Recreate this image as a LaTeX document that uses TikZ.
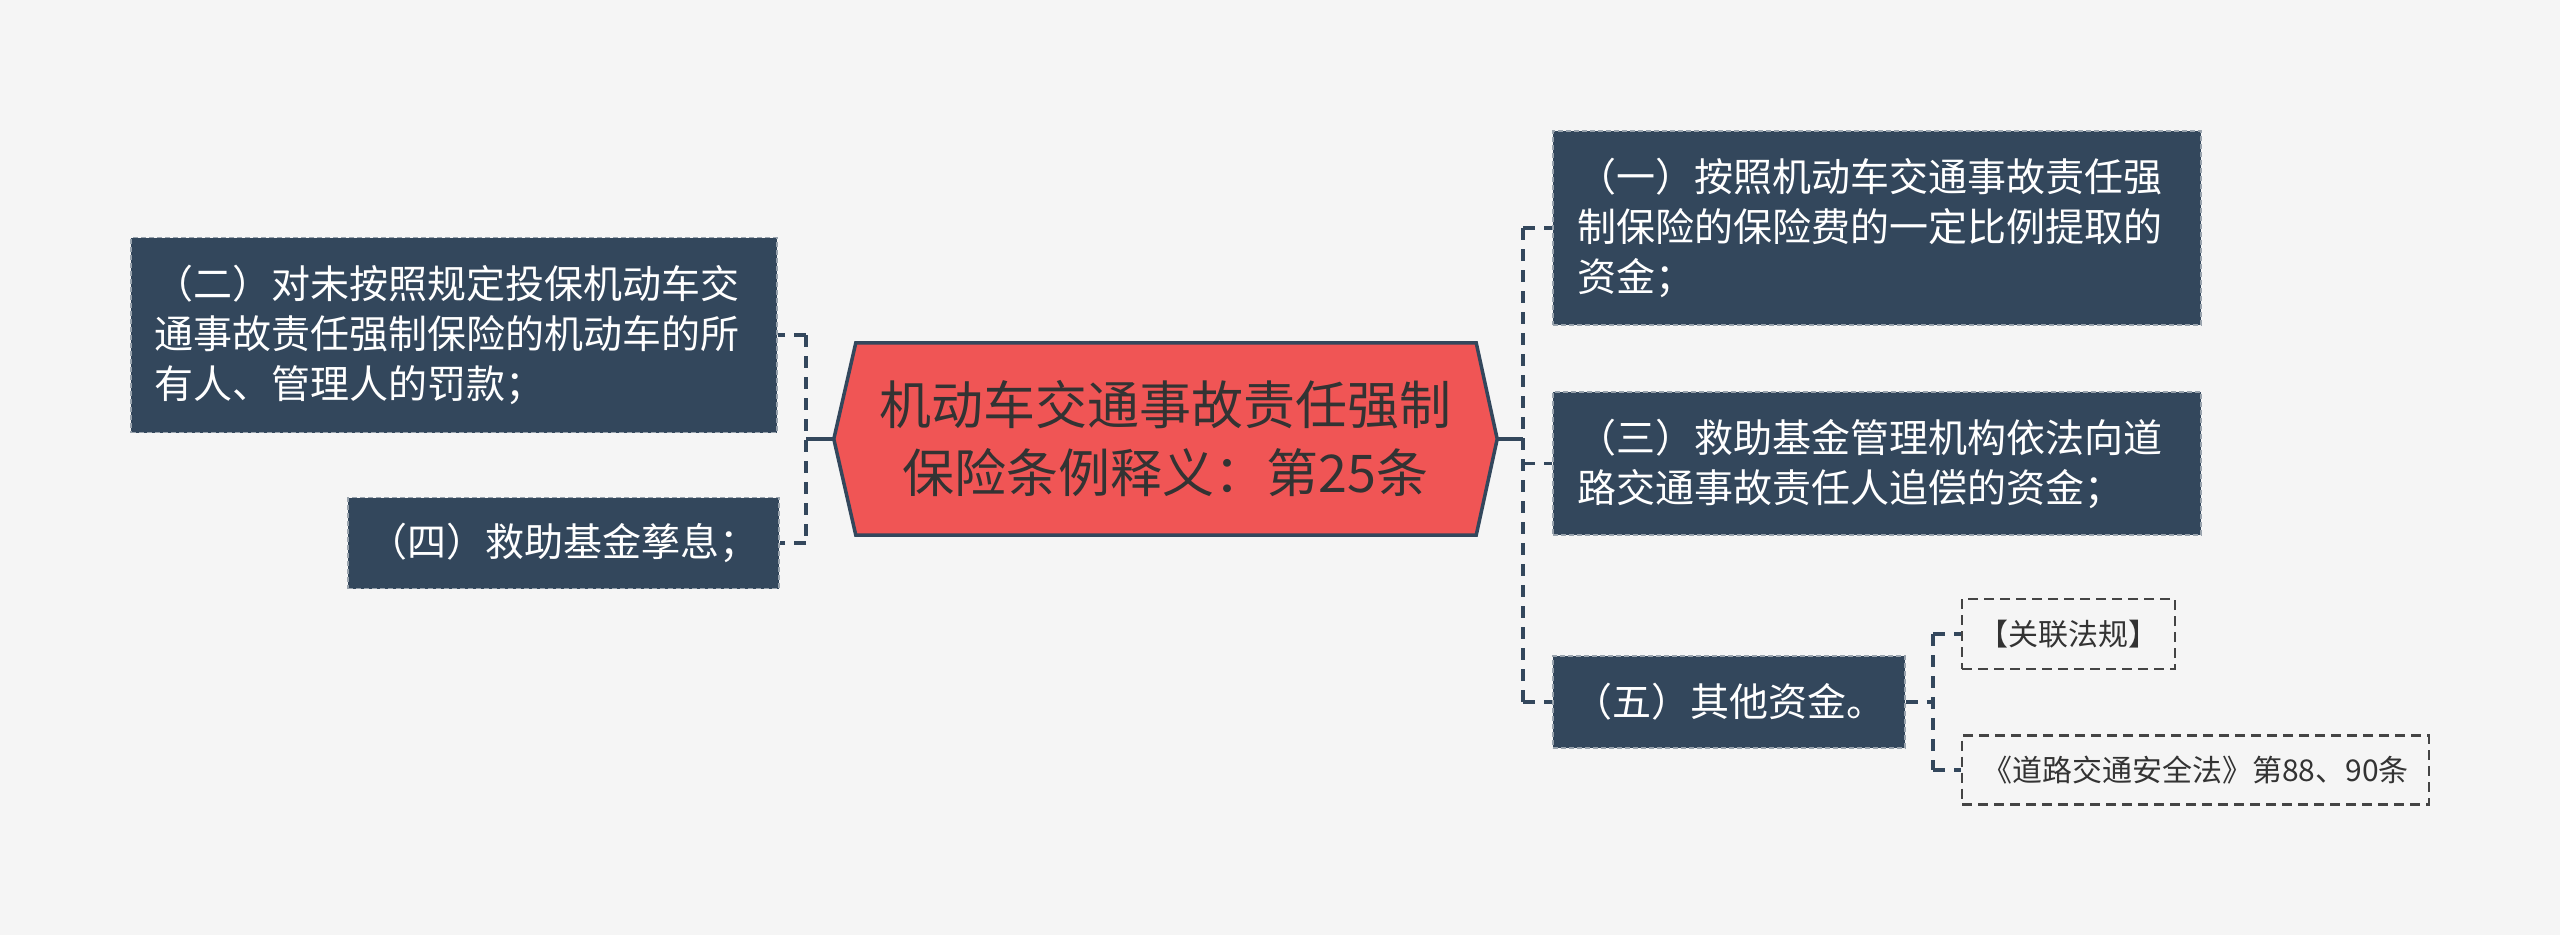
\documentclass[tikz,border=0pt]{standalone}
\usepackage{fontspec}
\setmainfont{Noto Sans CJK SC}
\usetikzlibrary{backgrounds}
\definecolor{bg}{HTML}{F5F5F5}
\definecolor{dark}{HTML}{33475C}
\definecolor{hexred}{HTML}{F05555}
\definecolor{txt}{HTML}{333333}
\definecolor{lite}{HTML}{444444}
\tikzset{
  darkbox/.style={fill=dark, draw=white!50!dark, dash pattern=on 5pt off 3pt, line width=1.5pt,
    text=white, font=\fontsize{39}{50}\selectfont, inner sep=0pt},
  litebox/.style={draw=lite, dash pattern=on 10pt off 6pt, line width=2.5pt,
    text=txt, font=\fontsize{30}{36}\selectfont, inner sep=0pt},
  conn/.style={draw=dark, line width=3.5pt, dash pattern=on 12pt off 9pt},
  stub/.style={draw=dark, line width=3.5pt},
}
\begin{document}
\begin{tikzpicture}[x=1pt,y=1pt]
\useasboundingbox (0,0) rectangle (2560,-935);

% centre
\node[text=txt, font=\fontsize{52}{68}\selectfont, align=center, minimum width=663pt, minimum height=192pt, inner sep=0pt] (c) at (1165.5,-439)
  {机动车交通事故责任强制\\保险条例释义：第25条};
\begin{scope}[on background layer]
\fill[bg] (0,0) rectangle (2560,-935);
\filldraw[fill=hexred, draw=dark, line width=3.5pt, line join=miter]
  (c.west) -- ([xshift=22pt]c.north west) -- ([xshift=-21pt]c.north east) -- (c.east)
  -- ([xshift=-21pt]c.south east) -- ([xshift=22pt]c.south west) -- cycle;
\end{scope}

% right boxes
\node[darkbox, minimum width=648pt, minimum height=194pt, text width=600pt, align=left] (b1) at (1877,-228)
  {（一）按照机动车交通事故责任强\\制保险的保险费的一定比例提取的\\资金；};
\node[darkbox, minimum width=648pt, minimum height=143pt, text width=600pt, align=left] (b3) at (1877,-463.5)
  {（三）救助基金管理机构依法向道\\路交通事故责任人追偿的资金；};
\node[darkbox, minimum width=352pt, minimum height=92pt, align=center] (b5) at (1729,-702)
  {（五）其他资金。};

% left boxes
\node[darkbox, minimum width=646pt, minimum height=195pt, text width=600pt, align=left] (b2) at (454,-335)
  {（二）对未按照规定投保机动车交\\通事故责任强制保险的机动车的所\\有人、管理人的罚款；};
\node[darkbox, minimum width=431pt, minimum height=91pt, align=center] (b4) at (563.5,-543)
  {（四）救助基金孳息；};

% small boxes
\node[litebox, minimum width=213pt, minimum height=70pt] (sa) at (2068.5,-634) {【关联法规】};
\node[litebox, minimum width=467pt, minimum height=69pt] (sb) at (2195.5,-770) {《道路交通安全法》第88、90条};

% junctions
\coordinate (jr) at (1523,-439);
\coordinate (jl) at (806,-439);
\coordinate (js) at (1933,-702);

% right connectors
\draw[stub] (c.east) -- (jr);
\draw[conn] (jr |- b1.west) -- (jr |- b5.west);
\draw[conn] (jr |- b1.west) -- (b1.west);
\draw[conn] (jr |- b3.west) -- (b3.west);
\draw[conn] (jr |- b5.west) -- (b5.west);

% left connectors
\draw[stub] (c.west) -- (jl);
\draw[conn] (jl |- b2.east) -- (jl |- b4.east);
\draw[conn] (jl |- b2.east) -- (b2.east);
\draw[conn] (jl |- b4.east) -- (b4.east);

% small connectors
\draw[conn] (b5.east) -- (js);
\draw[conn] (js |- sa.west) -- (js |- sb.west);
\draw[conn] (js |- sa.west) -- (sa.west);
\draw[conn] (js |- sb.west) -- (sb.west);
\end{tikzpicture}
\end{document}
